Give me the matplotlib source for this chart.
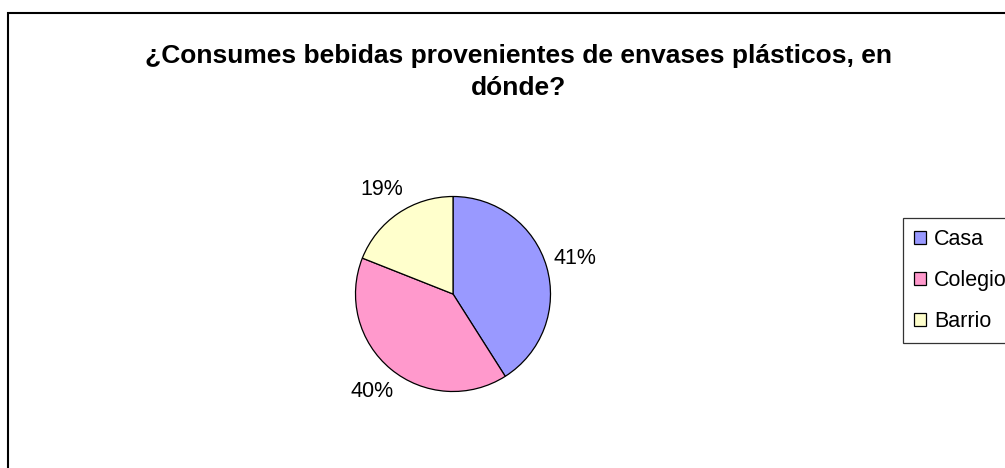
import matplotlib
matplotlib.use("Agg")
import matplotlib.pyplot as plt
from matplotlib.patches import Rectangle

plt.rcParams['font.family'] = ['Liberation Sans', 'DejaVu Sans']

# data
categories = ['Casa', 'Colegio', 'Barrio']
shares = [41, 40, 19]
colors = ['#9999FF', '#FF99CC', '#FFFFCC']
title_lines = ['¿Consumes bebidas provenientes de envases plásticos, en', 'dónde?']

W, H = 1005, 468
fig = plt.figure(figsize=(W / 100, H / 100), dpi=100)

# outer chart border (cut off by the right and bottom edges)
fig.add_artist(Rectangle((8 / W, -0.2), 1.5, 1.2 - 13 / H, transform=fig.transFigure,
                         fill=False, edgecolor='black', linewidth=1.5))

# title, two lines, centred on the chart area
fig.text(518 / W, 1 - 63 / H, title_lines[0], ha='center', va='baseline',
         fontsize=19, fontweight='bold')
fig.text(518 / W, 1 - 95 / H, title_lines[1], ha='center', va='baseline',
         fontsize=19, fontweight='bold')

# pie: centre (453, 294), radius ~97.5 px
cx, cy, half = 453, 294, 100
ax = fig.add_axes([(cx - half) / W, (H - cy - half) / H, 2 * half / W, 2 * half / H])
wedges, texts, autotexts = ax.pie(
    shares, colors=colors, startangle=90, counterclock=False, radius=0.975,
    autopct='%1.0f%%', pctdistance=1.3,
    wedgeprops=dict(edgecolor='black', linewidth=0.9),
    textprops=dict(fontsize=15.5, color='black'))
ax.set_xlim(-1, 1)
ax.set_ylim(-1, 1)
ax.set_aspect('equal')
ax.axis('off')

leg = fig.legend(wedges, categories, loc='upper left',
                 bbox_to_anchor=(903 / W, 1 - 218 / H), borderaxespad=0,
                 fontsize=15.5, frameon=True, fancybox=False, edgecolor='black',
                 handlelength=0.55, handleheight=0.55, handletextpad=0.4,
                 labelspacing=0.93, borderpad=0.5)
leg.get_frame().set_linewidth(0.9)

fig.savefig('out.png', dpi=100)
